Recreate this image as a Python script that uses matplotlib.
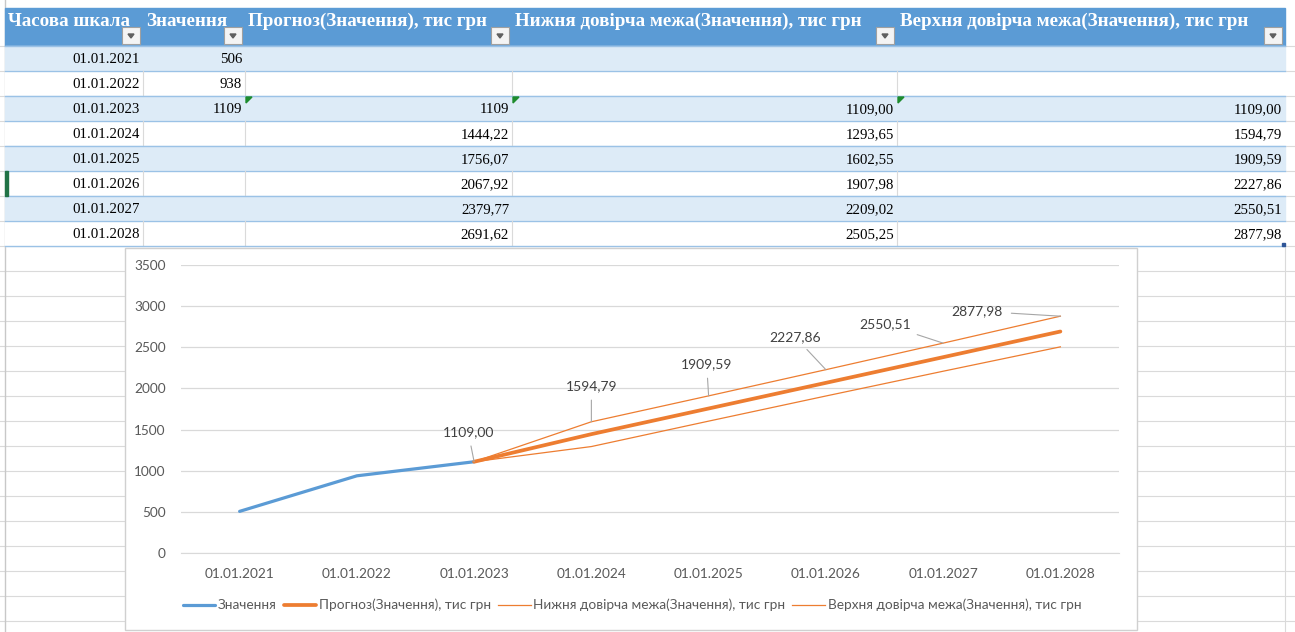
import matplotlib
matplotlib.use("Agg")
import matplotlib.pyplot as plt
from matplotlib.patches import Rectangle, Polygon

# Дані таблиці / графіка
dates = ['01.01.2021', '01.01.2022', '01.01.2023', '01.01.2024',
         '01.01.2025', '01.01.2026', '01.01.2027', '01.01.2028']
values = [506, 938, 1109]
forecast = [1109, 1444.22, 1756.07, 2067.92, 2379.77, 2691.62]
lower = [1109, 1293.65, 1602.55, 1907.98, 2209.02, 2505.25]
upper = [1109, 1594.79, 1909.59, 2227.86, 2550.51, 2877.98]
headers = ['Часова шкала', 'Значення', 'Прогноз(Значення), тис грн',
           'Нижня довірча межа(Значення), тис грн',
           'Верхня довірча межа(Значення), тис грн']

W, H = 1295, 632
BLUE = '#5B9BD5'
ORANGE = '#ED7D31'
GRID = '#D9D9D9'
TXT = '#595959'
serif = ['Liberation Serif', 'DejaVu Serif']
sans = ['Liberation Sans Narrow', 'Lato', 'DejaVu Sans']


def fmt(v, dec=2):
    return f'{v:.{dec}f}'.replace('.', ',')


fig = plt.figure(figsize=(W / 100, H / 100), dpi=100)
bg = fig.add_axes([0, 0, 1, 1])
bg.set_xlim(0, W)
bg.set_ylim(H, 0)
bg.axis('off')

# --- сітка аркуша ---
col_edges = [5, 143, 245, 512, 897, 1285]
head_top, head_bot, row_h = 8, 46, 25
n_rows = len(dates)
tab_bot = head_bot + row_h * n_rows

for y in range(head_bot, H, row_h):
    bg.plot([0, W], [y, y], color='#DADADA', lw=0.8, zorder=0)
bg.plot([5, 5], [0, H], color='#C8C8C8', lw=1, zorder=0)
bg.plot([1285, 1285], [tab_bot, H], color='#DADADA', lw=0.8, zorder=0)

# --- шапка таблиці ---
bg.add_patch(Rectangle((5, head_top), 1285 - 5, head_bot - head_top,
                       color=BLUE, zorder=1))
for j, name in enumerate(headers):
    x0, x1 = col_edges[j], col_edges[j + 1]
    t = bg.text(x0 + 3, 21, name, fontsize=13.7, fontweight='bold', color='white',
                family=serif, ha='left', va='center', zorder=2)
    t.set_clip_path(Rectangle((x0, head_top), x1 - x0, head_bot - head_top,
                              transform=bg.transData))
    # кнопка фільтра
    bx = x1 - 21
    bg.add_patch(Rectangle((bx, 27), 18, 17, facecolor='#F4F4F4',
                           edgecolor='#A0A0A0', lw=0.8, zorder=3))
    bg.add_patch(Polygon([(bx + 6, 34), (bx + 12, 34), (bx + 9, 38)],
                         closed=True, color='#606060', zorder=4))

# --- рядки таблиці ---
for i in range(n_rows):
    top = head_bot + row_h * i
    if i % 2 == 0:
        bg.add_patch(Rectangle((5, top), 1285 - 5, row_h, color='#DDEBF7', zorder=1))
    else:
        bg.add_patch(Rectangle((5, top), 1285 - 5, row_h, color='white', zorder=1))
        for x in col_edges[1:-1]:
            bg.plot([x, x], [top, top + row_h], color='#DADADA', lw=0.8, zorder=2)
    bg.plot([5, 1285], [top + row_h, top + row_h], color='#9BC2E6', lw=1, zorder=2)

    cells = [dates[i], '', '', '', '']
    if i < len(values):
        cells[1] = str(values[i])
    k = i - (len(values) - 1)
    if k >= 0:
        f = forecast[k]
        cells[2] = str(int(f)) if f == int(f) else fmt(f)
        cells[3] = fmt(lower[k])
        cells[4] = fmt(upper[k])
    for j, s in enumerate(cells):
        if s:
            bg.text(col_edges[j + 1] - 3, top + row_h / 2 + 1, s, fontsize=10.7,
                    family=serif, color='black', ha='right', va='center', zorder=3)
    if k == 0:
        for x in col_edges[2:5]:
            bg.add_patch(Polygon([(x + 1, top + 1), (x + 7, top + 1), (x + 1, top + 7)],
                                 closed=True, color='#1E8C2E', zorder=4))

bg.plot([5, 1285], [head_bot, head_bot], color='#9BC2E6', lw=1, zorder=2)
bg.add_patch(Rectangle((5, 171), 2.5, 25, color='#217346', zorder=3))
bg.add_patch(Rectangle((1282, tab_bot - 3), 3, 3, color='#2F5597', zorder=4))

# --- область діаграми ---
bg.add_patch(Rectangle((125, 248), 1137 - 125, 630 - 248, facecolor='white',
                       edgecolor='#D0D0D0', lw=1, zorder=5))

ax = fig.add_axes([181 / W, (H - 553) / H, (1119 - 181) / W, 288 / H])
ax.patch.set_visible(False)
ax.set_xlim(-0.5, len(dates) - 0.5)
ax.set_ylim(0, 3500)
ax.set_yticks(range(0, 3501, 500))
ax.set_xticks(range(len(dates)))
ax.set_xticklabels(dates)
ax.grid(axis='y', color=GRID, lw=0.9)
ax.set_axisbelow(True)
for s in ['top', 'right', 'left']:
    ax.spines[s].set_visible(False)
ax.spines['bottom'].set_color(GRID)
ax.tick_params(length=0, colors=TXT, labelsize=9.8)
ax.tick_params(axis='y', pad=11)
ax.tick_params(axis='x', pad=11)
for lab in ax.get_xticklabels() + ax.get_yticklabels():
    lab.set_family(sans)

x_hist = list(range(len(values)))
x_fc = list(range(len(values) - 1, len(dates)))
ax.plot(x_hist, values, color=BLUE, lw=2.3, solid_capstyle='round', label=headers[1])
ax.plot(x_fc, forecast, color=ORANGE, lw=2.7, solid_capstyle='round', label=headers[2])
ax.plot(x_fc, lower, color=ORANGE, lw=0.9, label=headers[3])
ax.plot(x_fc, upper, color=ORANGE, lw=0.9, label=headers[4])

# підписи верхньої межі з лініями-виносками (зсув у пікселях)
offsets = [(-6, 30), (0, 36), (-2, 32), (-31, 33), (-58, 19), (-83, 5)]
for xi, v, (dx, dy) in zip(x_fc, upper, offsets):
    ax.annotate(fmt(v), xy=(xi, v), xytext=(dx, dy), textcoords='offset pixels',
                ha='center', va='center', fontsize=10, color='#404040', family=sans,
                arrowprops=dict(arrowstyle='-', color='#A6A6A6', lw=0.8,
                                shrinkA=4, shrinkB=0))

fig.legend(loc='center', bbox_to_anchor=(632 / W, 1 - 605 / H), ncol=4,
           frameon=False, handlelength=2.4, handletextpad=0.2, columnspacing=0.5,
           prop={'family': sans, 'size': 9.8}, labelcolor=TXT)

fig.savefig('out.png', dpi=100)
